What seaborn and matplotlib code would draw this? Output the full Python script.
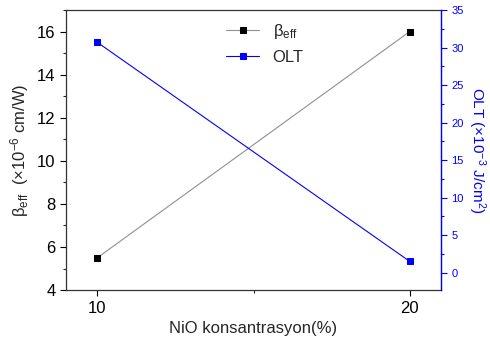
import matplotlib
matplotlib.use("Agg")
import matplotlib.pyplot as plt
import seaborn as sns
import pandas as pd
from matplotlib.ticker import MultipleLocator

sns.set_style("ticks")
plt.rcParams['font.family'] = ['Liberation Sans', 'DejaVu Sans']
plt.rcParams['mathtext.fontset'] = 'custom'
plt.rcParams['mathtext.rm'] = 'Liberation Sans'
plt.rcParams['mathtext.it'] = 'Liberation Sans'

concentration = [10, 20]
beta_eff = [5.5, 16.0]
olt = [30.7, 1.5]

df = pd.DataFrame({"x": concentration, "beta": beta_eff, "olt": olt})

fig = plt.figure(figsize=(4.9, 3.45), dpi=100)
ax = fig.add_axes([0.1347, 0.159, 0.7653, 0.812])
ax2 = ax.twinx()

sns.lineplot(data=df, x="x", y="beta", ax=ax, color="#909090", lw=0.8,
             marker="s", markersize=5, markerfacecolor="black", markeredgecolor="black",
             label=r"$\beta_{\mathrm{eff}}$", legend=False)
sns.lineplot(data=df, x="x", y="olt", ax=ax2, color="blue", lw=0.8,
             marker="s", markersize=5, markerfacecolor="blue", markeredgecolor="blue",
             label="OLT", legend=False)

ax.set_xlim(9, 21)
ax.set_ylim(4, 17)
ax2.set_ylim(-2.33, 35)
ax.set_xticks([10, 20])
ax.xaxis.set_minor_locator(MultipleLocator(5))
ax.set_yticks([4, 6, 8, 10, 12, 14, 16])
ax.yaxis.set_minor_locator(MultipleLocator(1))
ax2.set_yticks([0, 5, 10, 15, 20, 25, 30, 35])
ax2.yaxis.set_minor_locator(MultipleLocator(2.5))

ax.tick_params(axis='both', which='major', direction='out', length=4, width=0.8, labelsize=12, colors='black')
ax.tick_params(axis='both', which='minor', direction='out', length=2.5, width=0.8)
ax2.tick_params(axis='y', which='major', direction='out', length=4, width=0.8, labelsize=8, colors='blue')
ax2.tick_params(axis='y', which='minor', direction='out', length=2.5, width=0.8, colors='blue')

for s in ["top", "right", "left", "bottom"]:
    ax.spines[s].set_visible(True)
    ax.spines[s].set_color("#333333")
    ax.spines[s].set_linewidth(0.9)
for s in ["top", "left", "bottom"]:
    ax2.spines[s].set_visible(False)
ax2.spines["right"].set_visible(True)
ax2.spines["right"].set_color("blue")
ax2.spines["right"].set_linewidth(0.9)

ax.set_xlabel("NiO konsantrasyon(%)", fontsize=12)
ax.set_ylabel(r"$\beta_{\mathrm{eff}}$  (×10$^{-6}$ cm/W)", fontsize=12)
ax2.set_ylabel(r"OLT (×10$^{-3}$ J/cm$^{2}$)", fontsize=11, color="blue", rotation=270, labelpad=17)

h1, l1 = ax.get_legend_handles_labels()
h2, l2 = ax2.get_legend_handles_labels()
ax.legend(h1 + h2, l1 + l2, loc="upper center", bbox_to_anchor=(0.53, 1.01), frameon=False,
          fontsize=12, handlelength=2.0, labelspacing=0.5)

fig.savefig("out.png", dpi=100)
